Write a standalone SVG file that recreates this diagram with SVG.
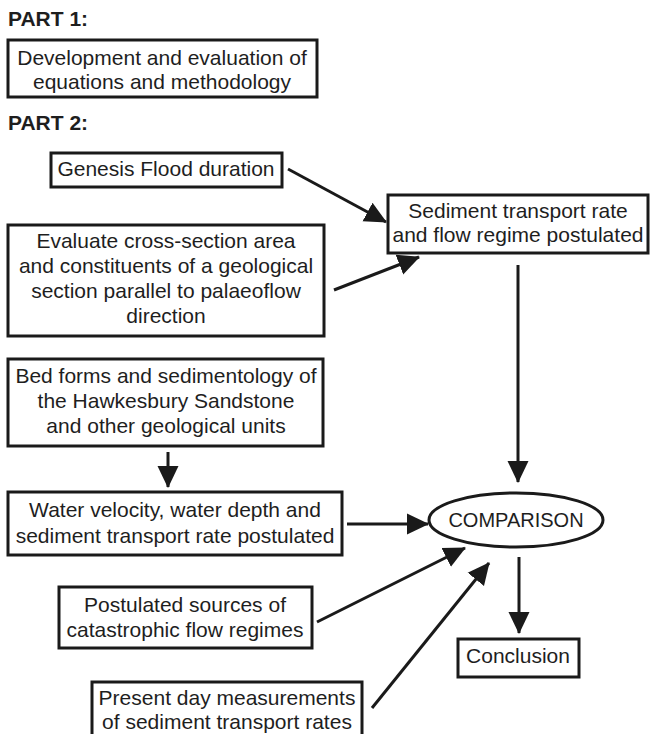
<svg xmlns="http://www.w3.org/2000/svg" width="650" height="734" viewBox="0 0 650 734">
<style>
  .box { fill: #fff; stroke: #1a1a1a; stroke-width: 3; }
  .t { font-family: "Liberation Sans", Arial, Helvetica, sans-serif; font-size: 21px; fill: #1e1e1e; text-anchor: middle; }
  .h { font-family: "Liberation Sans", Arial, Helvetica, sans-serif; font-size: 21px; font-weight: bold; fill: #1e1e1e; }
  .c { stroke: #1a1a1a; stroke-width: 3; fill: none; marker-end: url(#ah); }
</style>
<defs>
  <marker id="ah" markerUnits="userSpaceOnUse" markerWidth="22" markerHeight="22" refX="21" refY="10.5" orient="auto" viewBox="0 0 22 21">
    <path d="M0,0 L22,10.5 L0,21 z" fill="#1a1a1a"/>
  </marker>
</defs>
<rect width="650" height="734" fill="#fff"/>

<text class="h" x="8" y="26">PART 1:</text>
<g id="part1">
  <rect class="box" x="8" y="40" width="309" height="57"/>
  <text class="t" x="162" y="65">Development and evaluation of</text>
  <text class="t" x="162" y="89">equations and methodology</text>
</g>
<text class="h" x="8" y="130">PART 2:</text>

<g id="genesis">
  <rect class="box" x="51" y="153" width="231" height="34"/>
  <text class="t" x="166" y="176">Genesis Flood duration</text>
</g>
<g id="sediment">
  <rect class="box" x="388" y="195" width="260" height="58"/>
  <text class="t" x="518" y="218">Sediment transport rate</text>
  <text class="t" x="518" y="242">and flow regime postulated</text>
</g>
<g id="evaluate">
  <rect class="box" x="8" y="225" width="316" height="111"/>
  <text class="t" x="166" y="248">Evaluate cross-section area</text>
  <text class="t" x="166" y="273">and constituents of a geological</text>
  <text class="t" x="166" y="298">section parallel to palaeoflow</text>
  <text class="t" x="166" y="323">direction</text>
</g>
<g id="bedforms">
  <rect class="box" x="8" y="359" width="315" height="87"/>
  <text class="t" x="166" y="383">Bed forms and sedimentology of</text>
  <text class="t" x="166" y="408">the Hawkesbury Sandstone</text>
  <text class="t" x="166" y="433">and other geological units</text>
</g>
<g id="water">
  <rect class="box" x="8" y="492" width="334" height="63"/>
  <text class="t" x="175" y="517">Water velocity, water depth and</text>
  <text class="t" x="175" y="543">sediment transport rate postulated</text>
</g>
<g id="comparison">
  <ellipse cx="516" cy="520" rx="87" ry="27" fill="#fff" stroke="#1a1a1a" stroke-width="3"/>
  <text class="t" x="516" y="527" style="font-size:20px">COMPARISON</text>
</g>
<g id="postulated">
  <rect class="box" x="59" y="587" width="253" height="61"/>
  <text class="t" x="185" y="612">Postulated sources of</text>
  <text class="t" x="185" y="637">catastrophic flow regimes</text>
</g>
<g id="conclusion">
  <rect class="box" x="458" y="639" width="121" height="38"/>
  <text class="t" x="518" y="663">Conclusion</text>
</g>
<g id="present">
  <rect class="box" x="92" y="682" width="270" height="60"/>
  <text class="t" x="227" y="705">Present day measurements</text>
  <text class="t" x="227" y="729">of sediment transport rates</text>
</g>

<g id="connectors">
  <line class="c" x1="288" y1="169" x2="386" y2="222"/>
  <line class="c" x1="334" y1="290" x2="419" y2="257"/>
  <line class="c" x1="518" y1="265" x2="518" y2="482"/>
  <line class="c" x1="168" y1="452" x2="168" y2="487"/>
  <line class="c" x1="347" y1="524" x2="428" y2="524"/>
  <line class="c" x1="519" y1="557" x2="519" y2="633"/>
  <line class="c" x1="317" y1="622" x2="465" y2="548"/>
  <line class="c" x1="372" y1="708" x2="489" y2="563"/>
</g>
</svg>
